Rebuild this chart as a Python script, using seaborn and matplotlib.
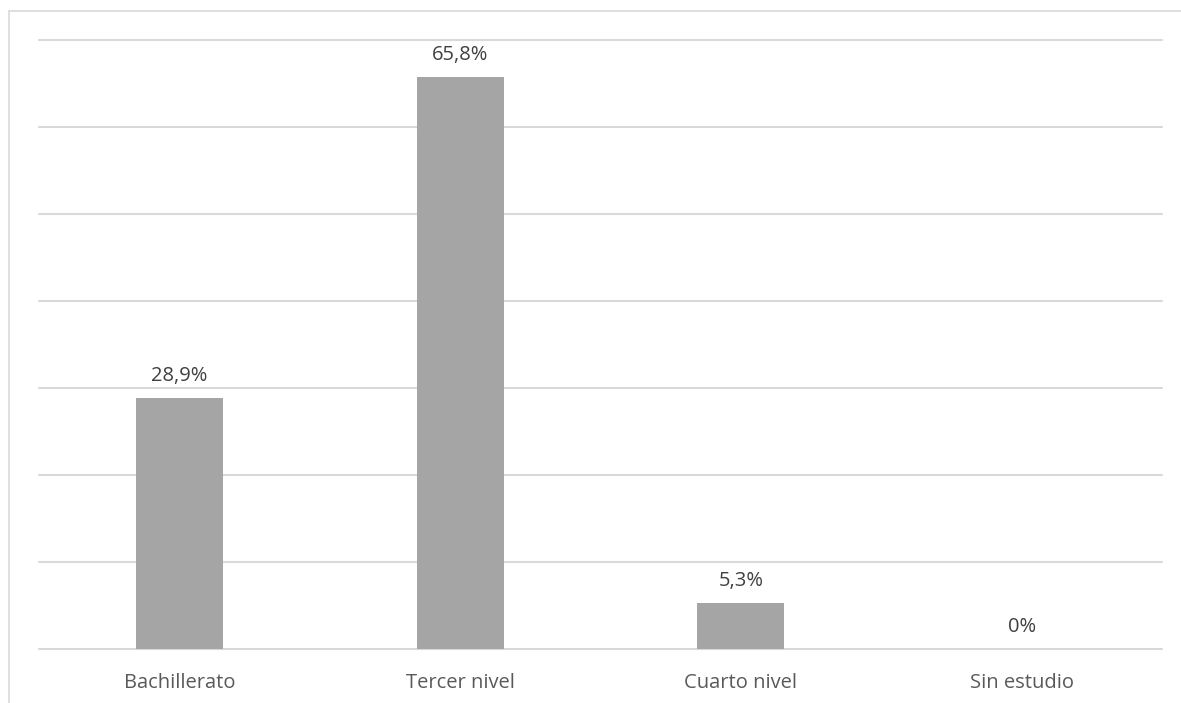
import matplotlib
matplotlib.use("Agg")
import matplotlib.pyplot as plt
import seaborn as sns
import pandas as pd
from matplotlib.lines import Line2D

categories = ["Bachillerato", "Tercer nivel", "Cuarto nivel", "Sin estudio"]
values = [28.9, 65.8, 5.3, 0.0]
value_labels = ["28,9%", "65,8%", "5,3%", "0%"]

sns.set_theme(style="white")
plt.rcParams['font.family'] = ['Open Sans', 'DejaVu Sans']

df = pd.DataFrame({"cat": categories, "val": values})

fig = plt.figure(figsize=(11.81, 7.03), dpi=100)
ax = fig.add_axes([39/1181, 1-649/703, (1162-39)/1181, (649-40)/703])

sns.barplot(data=df, x="cat", y="val", color="#A5A5A5", saturation=1,
            width=0.31, linewidth=0, ax=ax, zorder=3)

ax.set_ylim(0, 70)
ax.set_yticks(range(0, 71, 10))
ax.yaxis.grid(True, color="#D9D9D9", linewidth=1.5, zorder=0)
for gl in ax.get_ygridlines():
    gl.set_clip_on(False)
ax.set_axisbelow(True)
ax.tick_params(axis="y", left=False, labelleft=False, length=0)
ax.tick_params(axis="x", bottom=False, length=0, pad=28, labelsize=14.5,
               labelcolor="#595959")
for lbl in ax.get_xticklabels():
    lbl.set_va("baseline")
ax.set_xlabel("")
ax.set_ylabel("")
for s in ax.spines.values():
    s.set_visible(False)

for i, (v, lab) in enumerate(zip(values, value_labels)):
    ax.annotate(lab, (i, v), xytext=(0, 12.2), textcoords="offset points",
                ha="center", va="baseline", fontsize=14.5, color="#404040")

# chart-area border (top and left)
fig.add_artist(Line2D([9/1181, 1], [1-11/703, 1-11/703], transform=fig.transFigure,
                      color="#D9D9D9", linewidth=1.2))
fig.add_artist(Line2D([9/1181, 9/1181], [0, 1-11/703], transform=fig.transFigure,
                      color="#D9D9D9", linewidth=1.2))

fig.savefig("out.png", dpi=100)
